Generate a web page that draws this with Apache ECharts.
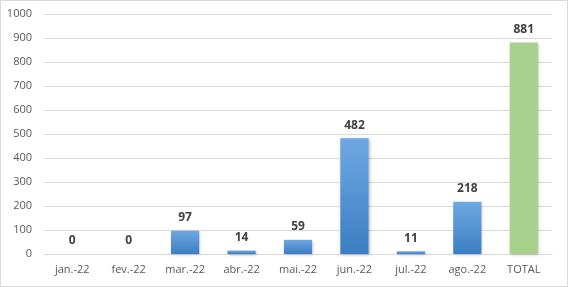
<!DOCTYPE html>
<html><head><meta charset="utf-8">
<script src="https://cdn.jsdelivr.net/npm/echarts@6/dist/echarts.min.js"></script>
<style>html,body{margin:0;padding:0;background:#fff}#c{width:568px;height:287px;box-sizing:border-box;border:1px solid #d9d9d9}</style>
</head><body><div id="c"></div>
<script>
const categories = ['jan.-22','fev.-22','mar.-22','abr.-22','mai.-22','jun.-22','jul.-22','ago.-22','TOTAL'];
const values = [0,0,97,14,59,482,11,218,881];
const yTicks = {min:0,max:1000,interval:100};

const blue = new echarts.graphic.LinearGradient(0,0,0,1,[{offset:0,color:'#6ea8e2'},{offset:1,color:'#3b7ec3'}]);
const green = '#a9d18e';
const chart = echarts.init(document.getElementById('c'));
chart.setOption({
  animation:false,
  grid:{left:43,right:15,top:13,bottom:32},
  xAxis:{type:'category',data:categories,
    axisLine:{lineStyle:{color:'#d9d9d9'}},axisTick:{show:false},
    axisLabel:{color:'#595959',fontSize:11,fontFamily:'Open Sans, Liberation Sans, sans-serif',margin:10}},
  yAxis:{type:'value',min:yTicks.min,max:yTicks.max,interval:yTicks.interval,
    axisLine:{show:false},axisTick:{show:false},
    splitLine:{lineStyle:{color:'#d9d9d9'}},
    axisLabel:{color:'#595959',fontSize:11,fontFamily:'Open Sans, Liberation Sans, sans-serif',margin:12,formatter:v=>String(v)}},
  series:[{type:'bar',barWidth:'50%',
    data:values.map((v,i)=>({value:v,itemStyle:{color:i===values.length-1?green:blue}})),
    itemStyle:{shadowColor:'rgba(0,0,0,0.25)',shadowBlur:3,shadowOffsetX:1,shadowOffsetY:1},
    label:{show:true,position:'top',distance:7,color:'#404040',fontWeight:'bold',fontSize:12,fontFamily:'Open Sans, Liberation Sans, sans-serif'}
  }]
});
</script></body></html>
